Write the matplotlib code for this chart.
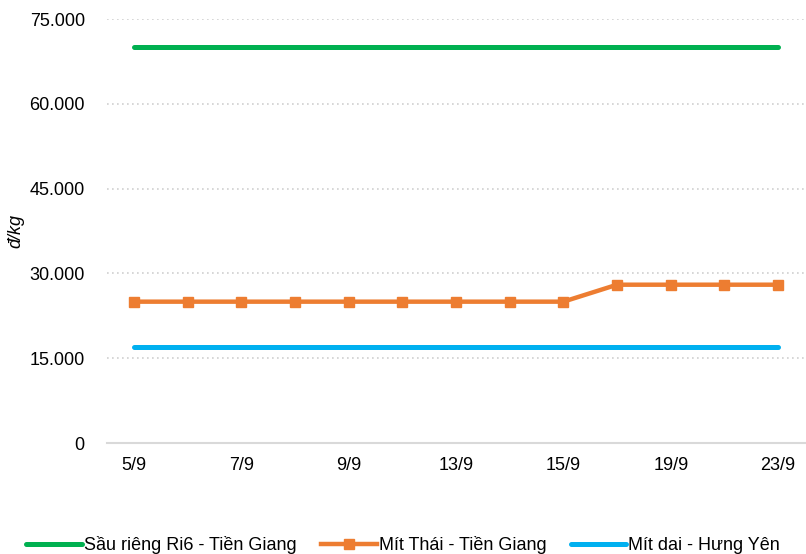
import matplotlib
matplotlib.use("Agg")
import matplotlib.pyplot as plt
from matplotlib.ticker import FuncFormatter

plt.rcParams['font.family'] = ['Liberation Sans', 'DejaVu Sans']

dates = ["5/9", "6/9", "7/9", "8/9", "9/9", "12/9", "13/9", "14/9", "15/9",
         "16/9", "19/9", "20/9", "23/9"]
sau_rieng = [70000] * 13
mit_thai = [25000, 25000, 25000, 25000, 25000, 25000, 25000, 25000, 25000,
            28000, 28000, 28000, 28000]
mit_dai = [17000] * 13
series_names = ["Sầu riêng Ri6 - Tiền Giang", "Mít Thái - Tiền Giang", "Mít dai - Hưng Yên"]

fig = plt.figure(figsize=(8.06, 5.54), dpi=100)
ax = fig.add_axes([107/806, 1-443/554, 698/806, (443-19)/554])

x = list(range(len(dates)))
ax.plot(x, sau_rieng, color="#00B050", lw=3.6, solid_capstyle="round", label=series_names[0])
ax.plot(x, mit_thai, color="#ED7D31", lw=3.2, marker="s", markersize=7.5, label=series_names[1])
ax.plot(x, mit_dai, color="#00B0F0", lw=3.6, solid_capstyle="round", label=series_names[2])

ax.set_ylim(0, 75000)
ax.set_xlim(-0.5, len(dates) - 0.5)
ax.set_yticks(range(0, 75001, 15000))
ax.yaxis.set_major_formatter(FuncFormatter(lambda v, p: "0" if v == 0 else f"{int(v):,}".replace(",", ".")))
ax.set_xticks(x[::2])
ax.set_xticklabels(dates[::2])
ax.tick_params(axis="both", length=0, labelsize=13, colors="#000000")
ax.tick_params(axis="y", pad=16)
ax.tick_params(axis="x", pad=10)

for v in range(15000, 75001, 15000):
    ax.axhline(v, color="#D0D0D0", lw=1.2, ls=(0, (1, 2)), zorder=0)
for s in ["top", "right", "left"]:
    ax.spines[s].set_visible(False)
ax.spines["bottom"].set_color("#D9D9D9")
ax.spines["bottom"].set_linewidth(1.5)

fig.text(16/806, 1-231/554, "đ/kg", rotation=90, style="italic", fontsize=13,
         ha="center", va="center")

leg = fig.legend(loc="center", bbox_to_anchor=(403/806, 1-545/554), ncol=3, frameon=False,
                 fontsize=13, handlelength=3.1, handletextpad=0.1, columnspacing=1.35)

fig.savefig("out.png", dpi=100)
